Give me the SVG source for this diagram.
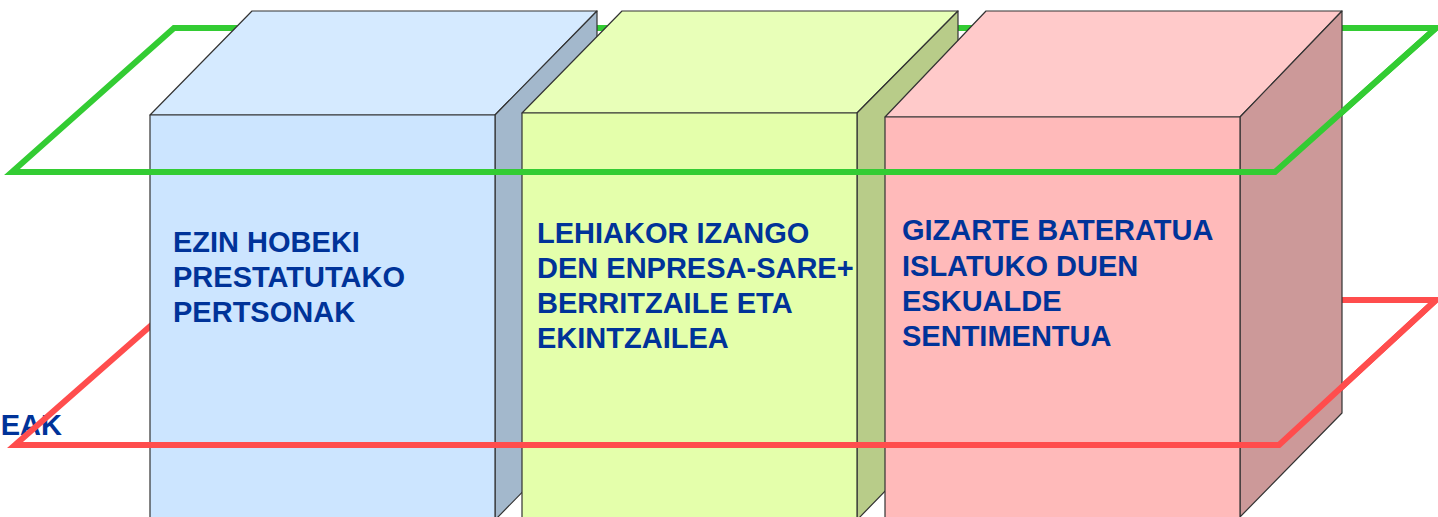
<svg xmlns="http://www.w3.org/2000/svg" width="1438" height="517" viewBox="0 0 1438 517">
<style>
.edge{stroke:#333;stroke-width:1.2;stroke-linejoin:round}
.lbl{font-family:"Liberation Sans",Arial,sans-serif;font-weight:bold;font-size:29px;fill:#003399}
.g{fill:none;stroke:#33CC33;stroke-width:6;stroke-linejoin:miter}
.r{fill:none;stroke:#FF4D4D;stroke-width:6;stroke-linejoin:miter}
</style>
<rect width="1438" height="517" fill="#fff"/>
<text class="lbl" x="62" y="435" text-anchor="end" font-size="30">EAK</text>
<g id="planes-back">
<path class="g" d="M12,172 L174,28 L1436,28 L1275,172 Z"/>
<path class="r" d="M15,445 L180,300 L1436,300 L1279,445 Z"/>
</g>
<g id="box1">
<polygon class="edge" fill="#D5EAFF" points="150,115 252,11 597,11 495,115"/>
<polygon class="edge" fill="#A3B8CC" points="495,115 597,11 597,416 495,520"/>
<polygon class="edge" fill="#CCE5FF" points="150,115 495,115 495,520 150,520"/>
<text class="lbl"><tspan x="173" y="252">EZIN HOBEKI</tspan><tspan x="173" y="287">PRESTATUTAKO</tspan><tspan x="173" y="322">PERTSONAK</tspan></text>
</g>
<g id="box2">
<polygon class="edge" fill="#E8FFB8" points="522,113 622,11 958,11 857,113"/>
<polygon class="edge" fill="#B8CC89" points="857,113 958,11 958,416 857,520"/>
<polygon class="edge" fill="#E4FFAB" points="522,113 857,113 857,520 522,520"/>
<text class="lbl"><tspan x="537" y="243">LEHIAKOR IZANGO</tspan><tspan x="537" y="278">DEN ENPRESA-SARE+</tspan><tspan x="537" y="313">BERRITZAILE ETA</tspan><tspan x="537" y="348">EKINTZAILEA</tspan></text>
</g>
<g id="box3">
<polygon class="edge" fill="#FFCACA" points="885,117 986,11 1342,11 1240,117"/>
<polygon class="edge" fill="#CC9999" points="1240,117 1342,11 1342,413 1240,517"/>
<polygon class="edge" fill="#FFBABA" points="885,117 1240,117 1240,520 885,520"/>
<text class="lbl"><tspan x="902" y="240">GIZARTE BATERATUA</tspan><tspan x="902" y="276">ISLATUKO DUEN</tspan><tspan x="902" y="311">ESKUALDE</tspan><tspan x="902" y="346">SENTIMENTUA</tspan></text>
</g>
<g id="planes-front">
<path class="g" d="M1436,28 L1275,172 L12,172"/>
<path class="r" d="M1436,300 L1279,445 L15,445"/>
</g>
</svg>
